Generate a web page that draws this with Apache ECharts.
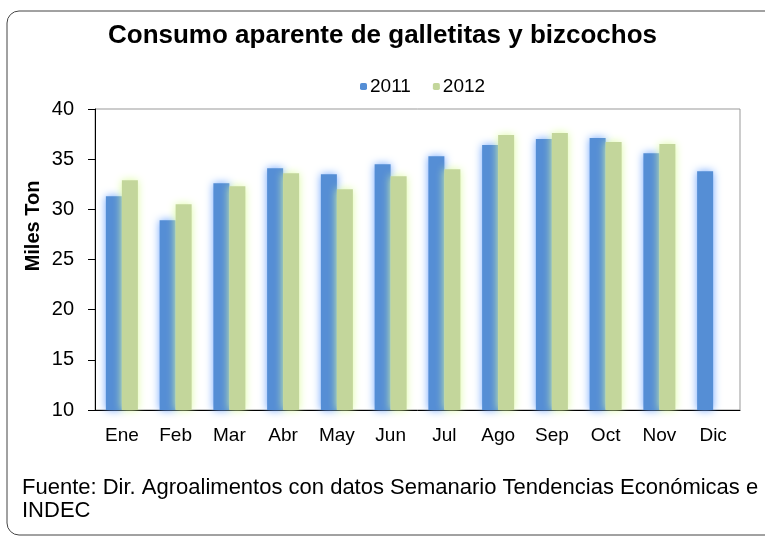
<!DOCTYPE html>
<html>
<head>
<meta charset="utf-8">
<script src="https://cdn.jsdelivr.net/npm/echarts@6/dist/echarts.min.js"></script>
<style>
  html, body { margin: 0; padding: 0; background: #fff; }
  #chart { width: 765px; height: 539px; }
</style>
</head>
<body>
<div id="chart"></div>
<script>
// datos
const meses = ['Ene', 'Feb', 'Mar', 'Abr', 'May', 'Jun', 'Jul', 'Ago', 'Sep', 'Oct', 'Nov', 'Dic'];
const serie2011 = [31.3, 28.9, 32.6, 34.1, 33.5, 34.5, 35.3, 36.4, 37.0, 37.1, 35.6, 33.8];
const serie2012 = [32.9, 30.5, 32.3, 33.6, 32.0, 33.3, 34.0, 37.4, 37.6, 36.7, 36.5, null];
const yTicks = [10, 15, 20, 25, 30, 35, 40];

const font = '"Liberation Sans", Arial, sans-serif';
const chart = echarts.init(document.getElementById('chart'));

const option = {
  animation: false,
  textStyle: { fontFamily: font },
  title: {
    text: 'Consumo aparente de galletitas y bizcochos',
    left: 'center',
    top: 18,
    textStyle: { fontFamily: font, fontSize: 26, fontWeight: 'bold', color: '#000' }
  },
  legend: {
    top: 72,
    left: 355,
    itemWidth: 7,
    itemHeight: 7,
    itemGap: 22,
    textStyle: { fontFamily: font, fontSize: 19, color: '#000', padding: [0, 0, 0, -2] },
    data: ['2011', '2012']
  },
  grid: {
    left: 95, right: 25, top: 109, bottom: 129,
    show: true, borderColor: '#999', borderWidth: 1
  },
  xAxis: {
    type: 'category',
    data: meses,
    axisLine: { lineStyle: { color: '#000' } },
    axisTick: { length: 6, lineStyle: { color: '#000' } },
    axisLabel: { fontFamily: font, fontSize: 19, color: '#000', margin: 16 }
  },
  yAxis: {
    type: 'value',
    min: yTicks[0],
    max: yTicks[yTicks.length - 1],
    interval: 5,
    axisLine: { show: true, lineStyle: { color: '#000' } },
    axisTick: { show: true, length: 7, lineStyle: { color: '#000' } },
    axisLabel: { fontFamily: font, fontSize: 20, color: '#000', margin: 21 },
    splitLine: { show: false }
  },
  series: [
    {
      name: '2011',
      type: 'bar',
      data: serie2011,
      barWidth: 16,
      barGap: '0%',
      itemStyle: { color: '#558ED5', shadowColor: 'rgba(110,165,255,1)', shadowBlur: 8 }
    },
    {
      name: '2012',
      type: 'bar',
      data: serie2012,
      barWidth: 16,
      itemStyle: { color: '#C3D69B', shadowColor: 'rgba(220,250,160,1)', shadowBlur: 8 }
    }
  ],
  graphic: [
    {
      type: 'rect',
      shape: { x: 7, y: 11, width: 770, height: 524, r: 12 },
      style: { fill: 'none', stroke: '#444', lineWidth: 1 },
      silent: true
    },
    {
      type: 'text',
      x: 33,
      y: 226,
      rotation: Math.PI / 2,
      style: {
        text: 'Miles Ton',
        fontFamily: font,
        fontSize: 20,
        fontWeight: 'bold',
        fill: '#000',
        align: 'center',
        verticalAlign: 'middle'
      }
    },
    {
      type: 'text',
      left: 22,
      top: 476,
      style: {
        text: 'Fuente: Dir. Agroalimentos con datos Semanario Tendencias Económicas e\nINDEC',
        fontFamily: font,
        fontSize: 22,
        lineHeight: 23,
        fill: '#000'
      }
    }
  ]
};

chart.setOption(option);
window.addEventListener('resize', () => { chart.resize(); });
</script>
</body>
</html>
